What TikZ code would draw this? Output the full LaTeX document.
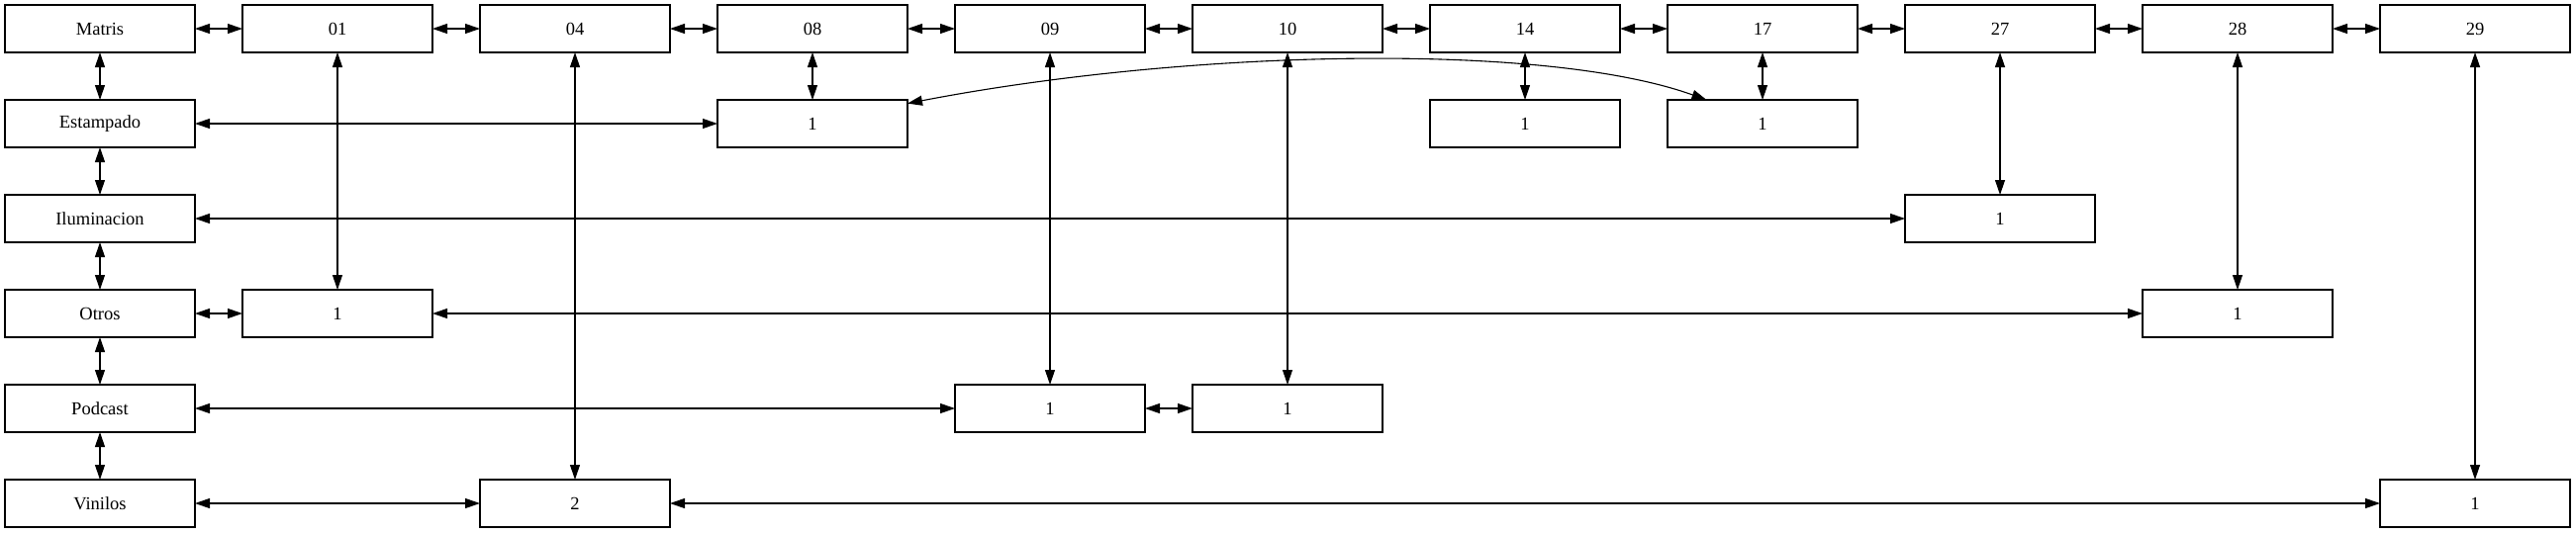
\documentclass[tikz,border=0pt]{standalone}
\usepackage{fontspec}
\setmainfont{Liberation Serif}
\usetikzlibrary{arrows.meta}
\tikzset{
  box/.style={draw, line width=1.1pt, rectangle, minimum width=192pt, minimum height=48pt,
              inner sep=0pt, outer sep=0pt, font=\fontsize{18.5pt}{22pt}\selectfont},
  link/.style={line width=1.1pt, {Triangle[length=15pt,width=10pt]}-{Triangle[length=15pt,width=10pt]}}
}
\begin{document}
\begin{tikzpicture}[x=1pt,y=-1pt]
\useasboundingbox (0,0) rectangle (2603,539);
% column centres: 101 + 240 i ; row centres: 29 + 96 j
\node[box] (m)  at (101,29)  {Matris};
\node[box] (h01) at (341,29) {01};
\node[box] (h04) at (581,29) {04};
\node[box] (h08) at (821,29) {08};
\node[box] (h09) at (1061,29) {09};
\node[box] (h10) at (1301,29) {10};
\node[box] (h14) at (1541,29) {14};
\node[box] (h17) at (1781,29) {17};
\node[box] (h27) at (2021,29) {27};
\node[box] (h28) at (2261,29) {28};
\node[box] (h29) at (2501,29) {29};
\node[box] (est) at (101,125) {Estampado};
\node[box] (ilu) at (101,221) {Iluminacion};
\node[box] (otr) at (101,317) {Otros};
\node[box] (pod) at (101,413) {Podcast};
\node[box] (vin) at (101,509) {Vinilos};
% values
\node[box] (e08) at (821,125) {1};
\node[box] (e14) at (1541,125) {1};
\node[box] (e17) at (1781,125) {1};
\node[box] (i27) at (2021,221) {1};
\node[box] (o01) at (341,317) {1};
\node[box] (o28) at (2261,317) {1};
\node[box] (p09) at (1061,413) {1};
\node[box] (p10) at (1301,413) {1};
\node[box] (v04) at (581,509) {2};
\node[box] (v29) at (2501,509) {1};
% header chain
\draw[link] (m) -- (h01);
\draw[link] (h01) -- (h04);
\draw[link] (h04) -- (h08);
\draw[link] (h08) -- (h09);
\draw[link] (h09) -- (h10);
\draw[link] (h10) -- (h14);
\draw[link] (h14) -- (h17);
\draw[link] (h17) -- (h27);
\draw[link] (h27) -- (h28);
\draw[link] (h28) -- (h29);
% row chain
\draw[link] (m) -- (est);
\draw[link] (est) -- (ilu);
\draw[link] (ilu) -- (otr);
\draw[link] (otr) -- (pod);
\draw[link] (pod) -- (vin);
% verticals
\draw[link] (h01) -- (o01);
\draw[link] (h04) -- (v04);
\draw[link] (h08) -- (e08);
\draw[link] (h09) -- (p09);
\draw[link] (h10) -- (p10);
\draw[link] (h14) -- (e14);
\draw[link] (h17) -- (e17);
\draw[link] (h27) -- (i27);
\draw[link] (h28) -- (o28);
\draw[link] (h29) -- (v29);
% horizontals
\draw[link] (est) -- (e08);
\draw[link] (ilu) -- (i27);
\draw[link] (otr) -- (o01);
\draw[link] (o01) -- (o28);
\draw[link] (pod) -- (p09);
\draw[link] (p09) -- (p10);
\draw[link] (vin) -- (v04);
\draw[link] (v04) -- (v29);
% curved
\draw[link] (e08.12) .. controls (1200,50) and (1560,42) .. (e17.157);
\end{tikzpicture}
\end{document}
